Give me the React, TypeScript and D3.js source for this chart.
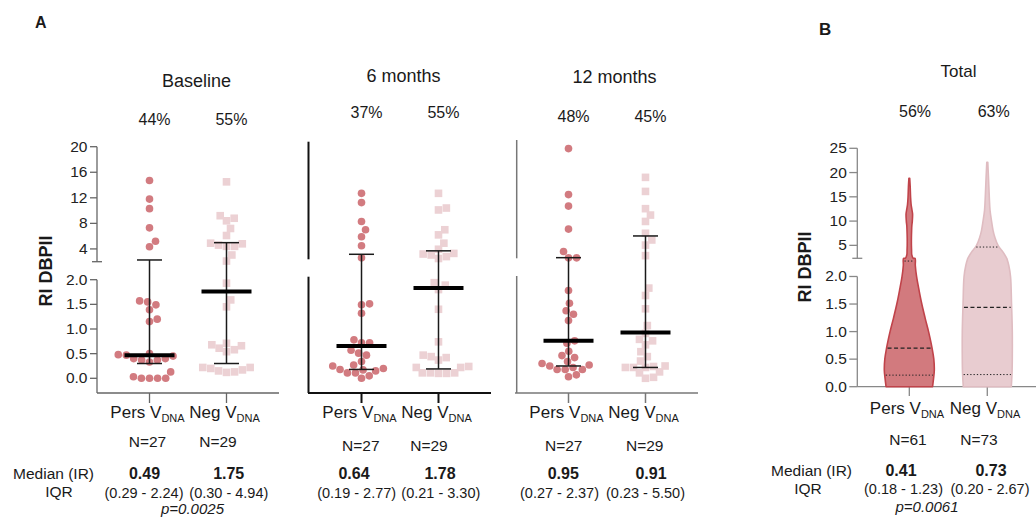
import React from "react";
import * as d3 from "d3";

// ---- data ----
const groups = ["Pers", "Neg"];
const panelTitles = ["Baseline", "6 months", "12 months"];
const percentLabels = [["44%", "55%"], ["37%", "55%"], ["48%", "45%"]];
const nLabels = [["N=27", "N=29"], ["N=27", "N=29"], ["N=27", "N=29"]];
const medianLabels = [["0.49", "1.75"], ["0.64", "1.78"], ["0.95", "0.91"]];
const iqrLabels = [
  ["(0.29 - 2.24)", "(0.30 - 4.94)"],
  ["(0.19 - 2.77)", "(0.21 - 3.30)"],
  ["(0.27 - 2.37)", "(0.23 - 5.50)"],
];

const baselinePers = [14.7, 11.8, 10.3, 7.3, 5.2, 4.35, 1.57, 1.55, 1.49, 1.39, 1.2, 1.15, 0.5, 0.48, 0.47, 0.45, 0.4, 0.4, 0.37, 0.37, 0.33, 0.13, 0.03, 0, 0, 0, 0];
const baselineNeg = [14.5, 9.2, 8.8, 8.4, 7.2, 6.1, 4.9, 4.8, 4.6, 4.4, 4.4, 3.05, 2.1, 1.93, 1.59, 1.45, 0.71, 0.68, 0.66, 0.61, 0.58, 0.54, 0.22, 0.22, 0.2, 0.17, 0.15, 0.13, 0.12];
const m6Pers = [12.7, 11.25, 8.3, 7.0, 5.9, 4.5, 2.6, 1.51, 1.49, 1.32, 0.78, 0.72, 0.72, 0.57, 0.51, 0.47, 0.34, 0.27, 0.25, 0.2, 0.18, 0.17, 0.15, 0.11, 0.11, 0.05, 0];
const m6Neg = [12.7, 10.4, 10.1, 7.0, 6.2, 4.9, 3.95, 3.3, 3.2, 3.05, 2.8, 2.5, 1.94, 1.89, 1.8, 1.4, 0.74, 0.47, 0.44, 0.42, 0.37, 0.24, 0.22, 0.22, 0.11, 0.11, 0.1, 0.1, 0.11];
const m12Pers = [19.7, 12.5, 10.7, 7.1, 3.6, 2.6, 2.6, 1.78, 1.52, 1.37, 1.3, 1.17, 0.76, 0.71, 0.55, 0.46, 0.42, 0.34, 0.3, 0.27, 0.25, 0.22, 0.18, 0.18, 0.18, 0.07, 0.03];
const m12Neg = [15.2, 13.0, 10.3, 9.3, 8.3, 6.45, 5.4, 4.6, 2.95, 1.83, 1.68, 1.41, 1.07, 0.91, 0.79, 0.76, 0.68, 0.54, 0.44, 0.35, 0.25, 0.24, 0.22, 0.22, 0.22, 0.13, 0.11, 0.02, 0];

// [median, q1, q3] as drawn
const barsBaseline = [[0.47, 0.3, 2.27], [1.76, 0.3, 4.98]];
const bars6m = [[0.655, 0.18, 3.16], [1.83, 0.19, 3.7]];
const bars12m = [[0.76, 0.25, 2.63], [0.93, 0.22, 6.03]];

const upperTicksA = [4, 8, 12, 16, 20];
const lowerTicks = [0, 0.5, 1, 1.5, 2];
const upperTicksB = [5, 10, 15, 20, 25];

// violin profiles (value, relative density)
const persLowerV = [0, 0.15, 0.3, 0.5, 0.7, 0.9, 1.0, 1.25, 1.5, 1.75, 2.0, 2.2, 2.33];
const persLowerD = [0.93, 0.97, 1, 0.98, 0.91, 0.82, 0.77, 0.63, 0.5, 0.39, 0.29, 0.24, 0.23];
const persUpperV = [2.33, 3, 4, 5, 6.5, 8, 9, 10, 11.5, 12.5, 13.5, 15, 17, 18.8];
const persUpperD = [0.16, 0.1, 0.09, 0.084, 0.084, 0.092, 0.1, 0.12, 0.13, 0.1, 0.07, 0.05, 0.036, 0.016];
const negLowerV = [0, 0.25, 0.5, 1.0, 1.5, 2.0, 2.2, 2.33];
const negLowerD = [0.96, 0.99, 1, 1, 0.97, 0.93, 0.86, 0.78];
const negUpperV = [2.33, 3.6, 5, 6.7, 8.1, 10, 12.2, 15, 18.5, 22.1];
const negUpperD = [0.78, 0.63, 0.43, 0.3, 0.23, 0.17, 0.11, 0.08, 0.052, 0.02];
// [q1, median, q3]
const persViolinQ = [0.21, 0.7, 2.28];
const negViolinQ = [0.22, 1.44, 4.65];

// ---- layout ----
const FONT = "'Liberation Sans', Arial, Helvetica, sans-serif";
const PERS = "#d27b80";
const NEG = "#ecd1d4";

const yLowA = d3.scaleLinear().domain([0, 2]).range([378.3, 279.7]);
const yUpA = d3.scaleLinear().domain([2, 20]).range([261.7, 146.7]);
const yA = (v: number) => (v <= 2 ? yLowA(v) : yUpA(v));

const yLowB = d3.scaleLinear().domain([0, 2.33]).range([386.7, 258.3]);
const yUpB = d3.scaleLinear().domain([2.33, 25]).range([258.3, 148.3]);

const panels = [
  { axisX: 97, range: [97, 279], color: "#666", w: 1.3, top: 146.7, brk: 261.7, low: 279.7, labels: true,
    titleX: 196.5, titleY: 87, pctY: 125, points: [baselinePers, baselineNeg], bars: barsBaseline,
    nX: [147.5, 218], nY: 447, medX: [144.5, 228.7], iqrX: [144, 228.8] },
  { axisX: 308.5, range: [309, 491], color: "#111", w: 2, top: 141.7, brk: 259.3, low: 276.7, labels: false,
    titleX: 403.5, titleY: 81.7, pctY: 118.3, points: [m6Pers, m6Neg], bars: bars6m,
    nX: [360.8, 429], nY: 451, medX: [354, 440], iqrX: [356.7, 440.8] },
  { axisX: 516.7, range: [516, 698], color: "#777", w: 1.5, top: 140, brk: 258.3, low: 276, labels: false,
    titleX: 614.5, titleY: 82.5, pctY: 122, points: [m12Pers, m12Neg], bars: bars12m,
    nX: [563.7, 644.7], nY: 451, medX: [563.3, 651], iqrX: [559.5, 645.5] },
];

const R = 3.8;

function swarm(values: number[], y: (v: number) => number, r: number) {
  const pts = values.map((v) => ({ v, y: y(v), x: 0 })).sort((a, b) => b.y - a.y);
  const placed: { x: number; y: number }[] = [];
  const d = 2 * r + 0.5;
  for (const p of pts) {
    const cands = [0];
    for (const q of placed) {
      const dy = Math.abs(q.y - p.y);
      if (dy < d) {
        const dx = Math.sqrt(d * d - dy * dy);
        cands.push(q.x + dx, q.x - dx);
      }
    }
    cands.sort((a, b) => Math.abs(a) - Math.abs(b));
    for (const c of cands) {
      if (placed.every((q) => (q.x - c) ** 2 + (q.y - p.y) ** 2 >= d * d - 0.01)) {
        p.x = c;
        break;
      }
    }
    placed.push({ x: p.x, y: p.y });
  }
  return pts;
}

const GroupLabel = ({ x, y, name }: { x: number; y: number; name: string }) => (
  <text x={x} y={y} textAnchor="middle" fontSize={17}>
    {name} V<tspan fontSize={11} dy={4}>DNA</tspan>
  </text>
);

function PanelA({ p, i }: { p: any; i: number }) {
  const x = d3.scalePoint<string>().domain(groups).range(p.range).padding(0.682);
  return (
    <g>
      {/* y axis segments */}
      <line x1={p.axisX} x2={p.axisX} y1={p.top} y2={p.brk} stroke={p.color} strokeWidth={p.w} />
      <line x1={p.axisX} x2={p.axisX} y1={p.low} y2={393} stroke={p.color} strokeWidth={p.w} />
      <line x1={p.range[0] - (i === 0 ? 0 : 1)} x2={p.range[1]} y1={393} y2={393} stroke={p.color} strokeWidth={p.w} />
      {groups.map((g) => (
        <line key={g} x1={x(g)} x2={x(g)} y1={393} y2={403} stroke={p.color} strokeWidth={p.w} />
      ))}
      {p.labels && (
        <g fontSize={15.5} fill="#222">
          <line x1={p.axisX - 5} x2={p.axisX + 5} y1={p.brk} y2={p.brk} stroke={p.color} strokeWidth={p.w} />
          {upperTicksA.map((t) => (
            <g key={"u" + t}>
              <line x1={p.axisX - 7} x2={p.axisX} y1={yUpA(t)} y2={yUpA(t)} stroke={p.color} strokeWidth={p.w} />
              <text x={p.axisX - 9.5} y={yUpA(t) + 5} textAnchor="end">{t}</text>
            </g>
          ))}
          {lowerTicks.map((t) => (
            <g key={"l" + t}>
              <line x1={p.axisX - 7} x2={p.axisX} y1={yLowA(t)} y2={yLowA(t)} stroke={p.color} strokeWidth={p.w} />
              <text x={p.axisX - 9.5} y={yLowA(t) + 5} textAnchor="end">{t.toFixed(1)}</text>
            </g>
          ))}
        </g>
      )}
      {/* points */}
      {swarm(p.points[0], yA, R).map((d, k) => (
        <circle key={"c" + k} cx={(x("Pers") as number) + d.x} cy={d.y} r={R} fill={PERS} />
      ))}
      {swarm(p.points[1], yA, R).map((d, k) => (
        <rect key={"s" + k} x={(x("Neg") as number) + d.x - R} y={d.y - R} width={2 * R} height={2 * R} fill={NEG} />
      ))}
      {/* error bars */}
      {groups.map((g, j) => {
        const [med, q1, q3] = p.bars[j];
        const cx = x(g) as number;
        return (
          <g key={"b" + g} stroke="#1a1a1a">
            <line x1={cx} x2={cx} y1={yA(q1)} y2={yA(q3)} strokeWidth={1.5} />
            <line x1={cx - 12.5} x2={cx + 12.5} y1={yA(q1)} y2={yA(q1)} strokeWidth={1.5} />
            <line x1={cx - 12.5} x2={cx + 12.5} y1={yA(q3)} y2={yA(q3)} strokeWidth={1.5} />
            <line x1={cx - 25} x2={cx + 25} y1={yA(med)} y2={yA(med)} strokeWidth={4} stroke="#000" />
          </g>
        );
      })}
      {/* texts */}
      <text x={p.titleX} y={p.titleY} textAnchor="middle" fontSize={18}>{panelTitles[i]}</text>
      {groups.map((g, j) => (
        <text key={"pc" + g} x={(x(g) as number) + 5} y={p.pctY} textAnchor="middle" fontSize={16}>{percentLabels[i][j]}</text>
      ))}
      {groups.map((g) => (
        <GroupLabel key={"gl" + g} x={(x(g) as number) - 2} y={418} name={g} />
      ))}
      {groups.map((g, j) => (
        <text key={"n" + g} x={p.nX[j]} y={p.nY} textAnchor="middle" fontSize={15.5}>{nLabels[i][j]}</text>
      ))}
      {groups.map((g, j) => (
        <text key={"m" + g} x={p.medX[j]} y={479} textAnchor="middle" fontSize={16} fontWeight="bold">{medianLabels[i][j]}</text>
      ))}
      {groups.map((g, j) => (
        <text key={"q" + g} x={p.iqrX[j]} y={498} textAnchor="middle" fontSize={14.5}>{iqrLabels[i][j]}</text>
      ))}
    </g>
  );
}

function violinPath(cx: number, lv: number[], ld: number[], uv: number[], ud: number[]) {
  const w = d3.scaleLinear().domain([0, 1]).range([0, 25]);
  const side = [
    ...lv.map((v, k) => ({ y: yLowB(v), w: w(ld[k]) })),
    ...uv.map((v, k) => ({ y: yUpB(v), w: w(ud[k]) })),
  ];
  const left = side.map((d) => [cx - d.w, d.y] as [number, number]);
  const right = side.slice().reverse().map((d) => [cx + d.w, d.y] as [number, number]);
  const line = d3.line().curve(d3.curveCatmullRom.alpha(0.5));
  return (line(left) as string) + "L" + (line(right) as string).slice(1) + "Z";
}

function PanelB() {
  const axisX = 857.3;
  const x = d3.scalePoint<string>().domain(groups).range([857.3, 1039.3]).padding(0.667);
  const color = "#888";
  const w = d3.scaleLinear().domain([0, 1]).range([0, 25]);
  const widthAt = (v: number, lv: number[], ld: number[], uv: number[], ud: number[]) =>
    v <= 2.33 ? w(d3.scaleLinear().domain(lv).range(ld)(v)) : w(d3.scaleLinear().domain(uv).range(ud)(v));
  const yB = (v: number) => (v <= 2.33 ? yLowB(v) : yUpB(v));
  const violins = [
    { g: "Pers", lv: persLowerV, ld: persLowerD, uv: persUpperV, ud: persUpperD, q: persViolinQ, fill: "#d27a7e", stroke: "#c0434a" },
    { g: "Neg", lv: negLowerV, ld: negLowerD, uv: negUpperV, ud: negUpperD, q: negViolinQ, fill: "#e8ccd0", stroke: "#dfbcc1" },
  ];
  return (
    <g>
      <line x1={axisX} x2={axisX} y1={148.3} y2={258.3} stroke={color} strokeWidth={1.3} />
      <line x1={axisX} x2={axisX} y1={yLowB(2)} y2={386.7} stroke={color} strokeWidth={1.3} />
      <line x1={axisX - 5} x2={axisX + 5} y1={258.3} y2={258.3} stroke={color} strokeWidth={1.3} />
      <line x1={axisX} x2={1036} y1={386.7} y2={386.7} stroke={color} strokeWidth={1.3} />
      {groups.map((g) => (
        <line key={g} x1={x(g)} x2={x(g)} y1={386.7} y2={396} stroke={color} strokeWidth={1.3} />
      ))}
      <g fontSize={15.5} fill="#222">
        {upperTicksB.map((t) => (
          <g key={"u" + t}>
            <line x1={axisX - 8} x2={axisX} y1={yUpB(t)} y2={yUpB(t)} stroke={color} strokeWidth={1.3} />
            <text x={axisX - 10.5} y={yUpB(t) + 5} textAnchor="end">{t}</text>
          </g>
        ))}
        {lowerTicks.map((t) => (
          <g key={"l" + t}>
            <line x1={axisX - 8} x2={axisX} y1={yLowB(t)} y2={yLowB(t)} stroke={color} strokeWidth={1.3} />
            <text x={axisX - 10.5} y={yLowB(t) + 5} textAnchor="end">{t.toFixed(1)}</text>
          </g>
        ))}
      </g>
      {violins.map((v) => {
        const cx = x(v.g) as number;
        return (
          <g key={v.g}>
            <path d={violinPath(cx, v.lv, v.ld, v.uv, v.ud)} fill={v.fill} stroke={v.stroke} strokeWidth={1.6} strokeLinejoin="round" />
            {v.q.map((q, k) => {
              const hw = widthAt(q, v.lv, v.ld, v.uv, v.ud) - 1;
              return (
                <line key={k} x1={cx - hw} x2={cx + hw} y1={yB(q)} y2={yB(q)} stroke="#222"
                  strokeWidth={k === 1 ? 1.3 : 1} strokeDasharray={k === 1 ? "4,2.5" : "1.3,2"} />
              );
            })}
          </g>
        );
      })}
      <text x={958.5} y={77} textAnchor="middle" fontSize={17}>Total</text>
      <text x={915} y={117} textAnchor="middle" fontSize={16}>56%</text>
      <text x={993.7} y={117} textAnchor="middle" fontSize={16}>63%</text>
      <GroupLabel x={907} y={414} name="Pers" />
      <GroupLabel x={985} y={414} name="Neg" />
      <text x={908} y={445} textAnchor="middle" fontSize={15.5}>N=61</text>
      <text x={979} y={445} textAnchor="middle" fontSize={15.5}>N=73</text>
      <text x={852} y={476} textAnchor="end" fontSize={15.5}>Median (IR)</text>
      <text x={808} y={494} textAnchor="middle" fontSize={15.5}>IQR</text>
      <text x={901} y={476} textAnchor="middle" fontSize={16} fontWeight="bold">0.41</text>
      <text x={991} y={476} textAnchor="middle" fontSize={16} fontWeight="bold">0.73</text>
      <text x={903.5} y={494} textAnchor="middle" fontSize={14.5}>(0.18 - 1.23)</text>
      <text x={990} y={494} textAnchor="middle" fontSize={14.5}>(0.20 - 2.67)</text>
      <text x={927} y={512} textAnchor="middle" fontSize={15} fontStyle="italic">p=0.0061</text>
      <text transform="translate(811,267) rotate(-90)" textAnchor="middle" fontSize={18} fontWeight="bold">RI DBPII</text>
    </g>
  );
}

export default function App() {
  return (
    <svg width={1036} height={517} style={{ position: "absolute", left: 0, top: 0, display: "block", background: "#fff" }}
      fontFamily={FONT} fill="#1a1a1a">
      <text x={35} y={28} fontSize={16} fontWeight="bold">A</text>
      <text x={819} y={35} fontSize={17} fontWeight="bold">B</text>
      <text transform="translate(52,271) rotate(-90)" textAnchor="middle" fontSize={18} fontWeight="bold">RI DBPII</text>
      {panels.map((p, i) => (
        <PanelA key={i} p={p} i={i} />
      ))}
      <text x={94} y={479} textAnchor="end" fontSize={15.5}>Median (IR)</text>
      <text x={59} y={497} textAnchor="middle" fontSize={15.5}>IQR</text>
      <text x={192.5} y={514} textAnchor="middle" fontSize={15} fontStyle="italic">p=0.0025</text>
      <PanelB />
    </svg>
  );
}
